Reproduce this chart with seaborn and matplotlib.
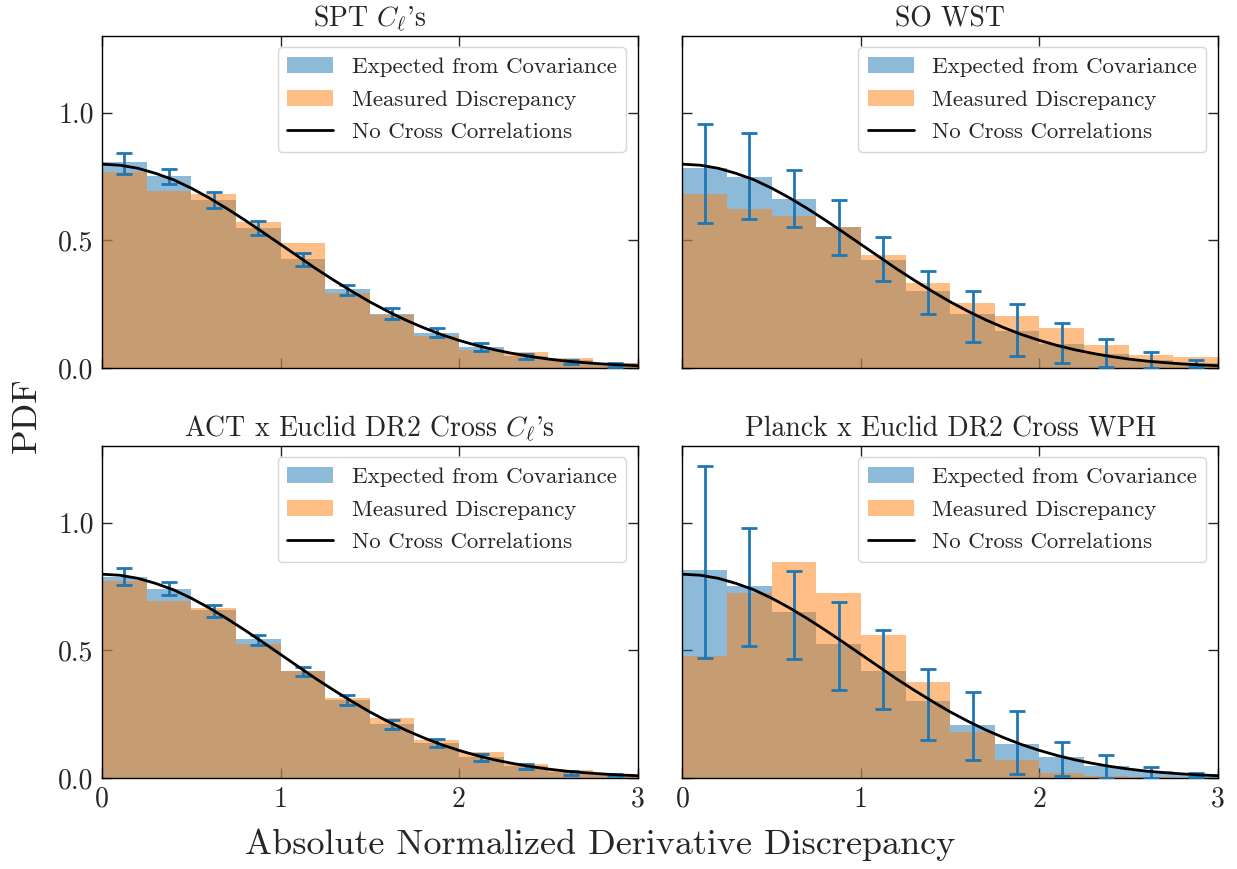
import numpy as np
import pandas as pd
import matplotlib
matplotlib.use("Agg")
import matplotlib.pyplot as plt
import seaborn as sns
from matplotlib.patches import Patch
from matplotlib.lines import Line2D

# ---------------- data ----------------
bin_edges = [0.0, 0.25, 0.5, 0.75, 1.0, 1.25, 1.5, 1.75, 2.0, 2.25, 2.5, 2.75, 3.0]
bin_centers = [0.125, 0.375, 0.625, 0.875, 1.125, 1.375, 1.625, 1.875, 2.125, 2.375, 2.625, 2.875]

titles = ["SPT $C_\\ell$'s", "SO WST", "ACT x Euclid DR2 Cross $C_\\ell$'s", "Planck x Euclid DR2 Cross WPH"]

# Expected from Covariance (blue)
spt_expected = [0.805, 0.750, 0.656, 0.547, 0.426, 0.309, 0.213, 0.137, 0.082, 0.047, 0.031, 0.020]
so_expected = [0.783, 0.746, 0.660, 0.551, 0.422, 0.302, 0.211, 0.145, 0.094, 0.055, 0.031, 0.018]
act_expected = [0.789, 0.742, 0.656, 0.543, 0.418, 0.307, 0.211, 0.137, 0.082, 0.047, 0.023, 0.012]
planck_expected = [0.816, 0.751, 0.652, 0.523, 0.419, 0.302, 0.207, 0.133, 0.082, 0.047, 0.027, 0.016]

# Measured Discrepancy (orange)
spt_measured = [0.768, 0.693, 0.680, 0.570, 0.488, 0.292, 0.208, 0.125, 0.070, 0.062, 0.039, 0.020]
so_measured = [0.680, 0.621, 0.594, 0.551, 0.441, 0.332, 0.254, 0.203, 0.156, 0.090, 0.051, 0.043]
act_measured = [0.770, 0.693, 0.667, 0.525, 0.418, 0.312, 0.234, 0.148, 0.102, 0.055, 0.031, 0.016]
planck_measured = [0.478, 0.723, 0.844, 0.723, 0.559, 0.375, 0.181, 0.072, 0.021, 0.008, 0.003, 0.001]

# Error bar centres and half-widths
spt_err_mid = [0.800, 0.751, 0.659, 0.548, 0.424, 0.305, 0.213, 0.138, 0.081, 0.045, 0.024, 0.013]
spt_err = [0.040, 0.030, 0.031, 0.027, 0.026, 0.018, 0.020, 0.018, 0.015, 0.011, 0.008, 0.008]
so_err_mid = [0.761, 0.752, 0.664, 0.549, 0.426, 0.295, 0.202, 0.149, 0.097, 0.060, 0.031, 0.018]
so_err = [0.193, 0.167, 0.111, 0.108, 0.087, 0.085, 0.100, 0.103, 0.078, 0.055, 0.031, 0.013]
act_err_mid = [0.789, 0.742, 0.654, 0.540, 0.418, 0.306, 0.210, 0.136, 0.081, 0.045, 0.021, 0.012]
act_err = [0.033, 0.024, 0.023, 0.020, 0.017, 0.020, 0.019, 0.016, 0.013, 0.010, 0.008, 0.005]
planck_err_mid = [0.846, 0.747, 0.639, 0.517, 0.426, 0.287, 0.202, 0.139, 0.074, 0.046, 0.021, 0.012]
planck_err = [0.376, 0.231, 0.173, 0.174, 0.155, 0.139, 0.133, 0.122, 0.066, 0.045, 0.021, 0.007]

# No Cross Correlations curve (read at x steps of 0.1)
curve_x = [0.0, 0.1, 0.2, 0.3, 0.4, 0.5, 0.6, 0.7, 0.8, 0.9, 1.0, 1.1, 1.2, 1.3, 1.4, 1.5,
           1.6, 1.7, 1.8, 1.9, 2.0, 2.1, 2.2, 2.3, 2.4, 2.5, 2.6, 2.7, 2.8, 2.9, 3.0]
curve_y = [0.798, 0.794, 0.782, 0.762, 0.737, 0.704, 0.666, 0.624, 0.579, 0.532, 0.484,
           0.436, 0.388, 0.343, 0.300, 0.259, 0.222, 0.188, 0.158, 0.131, 0.108, 0.088,
           0.071, 0.057, 0.045, 0.035, 0.027, 0.021, 0.016, 0.012, 0.009]

x_ticks = [0, 1, 2, 3]
y_ticks = [0.0, 0.5, 1.0]

panels = [
    (spt_expected, spt_measured, spt_err_mid, spt_err),
    (so_expected, so_measured, so_err_mid, so_err),
    (act_expected, act_measured, act_err_mid, act_err),
    (planck_expected, planck_measured, planck_err_mid, planck_err),
]

# ---------------- style ----------------
sns.set_style("ticks")
plt.rcParams["font.family"] = ["cmr10", "DejaVu Serif"]
plt.rcParams["mathtext.fontset"] = "cm"
plt.rcParams["axes.formatter.use_mathtext"] = True
plt.rcParams["axes.unicode_minus"] = False
plt.rcParams["xtick.direction"] = "in"
plt.rcParams["ytick.direction"] = "in"
plt.rcParams["xtick.top"] = True
plt.rcParams["ytick.right"] = True

blue = "#1f77b4"
orange = "#ff7f0e"

fig, axes = plt.subplots(2, 2, figsize=(12.37, 8.69), dpi=100, sharex=True, sharey=True)
fig.subplots_adjust(left=0.0825, right=0.9846, top=0.9586, bottom=0.1047, wspace=0.084, hspace=0.235)

for ax, title, (exp_h, meas_h, emid, eerr) in zip(axes.flat, titles, panels):
    df = pd.DataFrame({"x": bin_centers, "expected": exp_h, "measured": meas_h})
    sns.histplot(data=df, x="x", weights="expected", bins=bin_edges, stat="count",
                 color=blue, alpha=0.5, linewidth=0, ax=ax)
    sns.histplot(data=df, x="x", weights="measured", bins=bin_edges, stat="count",
                 color=orange, alpha=0.5, linewidth=0, ax=ax)
    ax.errorbar(bin_centers, emid, yerr=eerr, fmt="none", ecolor=blue,
                elinewidth=2, capsize=6, capthick=2, zorder=4)
    sns.lineplot(x=curve_x, y=curve_y, color="black", linewidth=2, ax=ax, zorder=5)
    ax.set_xlim(0, 3)
    ax.set_ylim(0, 1.3)
    ax.set_xticks(x_ticks)
    ax.set_yticks(y_ticks)
    ax.set_xlabel("")
    ax.set_ylabel("")
    ax.set_title(title, fontsize=20, pad=7)
    ax.tick_params(axis="both", which="major", length=7, width=1, labelsize=20, pad=6)
    for s in ax.spines.values():
        s.set_linewidth(1.0)
        s.set_color("black")
    handles = [Patch(facecolor=blue, alpha=0.5, edgecolor="none"),
               Patch(facecolor=orange, alpha=0.5, edgecolor="none"),
               Line2D([0], [0], color="black", linewidth=2)]
    labels = ["Expected from Covariance", "Measured Discrepancy", "No Cross Correlations"]
    ax.legend(handles, labels, loc="upper right", fontsize=16.5, frameon=True, fancybox=True,
              labelspacing=0.55, borderpad=0.42)

axes[0, 0].set_yticklabels(["0.0", "0.5", "1.0"])
axes[1, 0].set_xticklabels(["0", "1", "2", "3"])

fig.supxlabel("Absolute Normalized Derivative Discrepancy", fontsize=26, x=0.485, y=0.028, va="center")
fig.supylabel("PDF", fontsize=26, x=0.022, y=0.522, ha="center", va="center")

fig.savefig("out.png", dpi=100)
